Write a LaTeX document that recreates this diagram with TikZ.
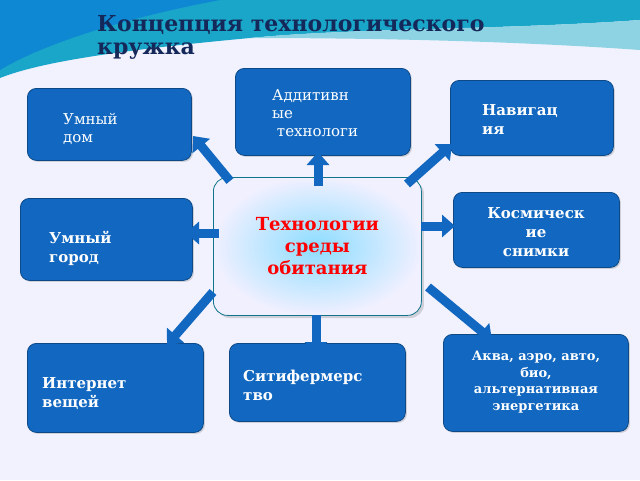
\documentclass[tikz,border=0pt]{standalone}
\usepackage{fontspec}
\setmainfont{DejaVu Serif}
\usetikzlibrary{arrows.meta,shadows}
\definecolor{boxblue}{HTML}{1268C0}
\definecolor{navy}{HTML}{14285A}
\definecolor{teal1}{HTML}{1AA6C8}
\tikzset{
  bx/.style={draw=boxblue!70!black,line width=0.8pt,fill=boxblue,rounded corners=9pt,anchor=north west,inner sep=0pt,drop shadow={opacity=0.3,shadow xshift=1.5pt,shadow yshift=-1.5pt}},
  tx/.style={text=white,font=\fontsize{15}{18}\selectfont,align=left,anchor=north west,inner sep=0pt},
  txb/.style={tx,font=\bfseries\fontsize{15}{19}\selectfont},
  fat/.style={line width=9pt,-{Triangle[width=22pt,length=13pt]},color=boxblue},
}
\begin{document}
\begin{tikzpicture}[x=1pt,y=-1pt]
\useasboundingbox (0,0) rectangle (640,480);
\fill[white!95!blue] (0,0) rectangle (640,480);
% top swoosh
\fill[teal1] (0,0) -- (640,0) -- (640,20) .. controls (500,30) and (350,28) .. (250,38) .. controls (120,50) and (40,62) .. (0,78) -- cycle;
\fill[teal1!50!white] (640,20) .. controls (500,30) and (350,28) .. (250,38) .. controls (350,38) and (500,40) .. (640,50) -- cycle;
\fill[cyan!70!blue] (0,0) -- (220,0) .. controls (140,15) and (50,40) .. (0,70) -- cycle;
\node[anchor=north west,text=navy,font=\bfseries\fontsize{22}{23}\selectfont,align=left,inner sep=0pt] (title) at (97,15) {Концепция технологического\\кружка};
% center
\node[draw=teal1!70!black,line width=0.8pt,rounded corners=14pt,inner color=blue!30!cyan!45,outer color=blue!6!white,minimum width=208pt,minimum height=138pt,anchor=north west,drop shadow={opacity=0.3}] (c) at (213,177) {};
\node[text=red,font=\bfseries\fontsize{18}{22}\selectfont,align=center] (ct) at (c.center) {Технологии\\среды\\обитания};
% boxes
\node[bx,minimum width=164pt,minimum height=72pt] (dom) at (27,88) {};
\node[tx] (domt) at (63,113) {Умный\\дом};
\node[bx,minimum width=175pt,minimum height=87pt] (add) at (235,68) {};
\node[tx] (addt) at (272,89) {Аддитивн\\ые\\\ технологи};
\node[bx,minimum width=163pt,minimum height=75pt] (nav) at (450,80) {};
\node[txb] (navt) at (482,104) {Навигац\\ия};
\node[bx,minimum width=172pt,minimum height=82pt] (gor) at (20,198) {};
\node[txb] (gort) at (49,231) {Умный\\город};
\node[bx,minimum width=166pt,minimum height=75pt] (kos) at (453,192) {};
\node[txb,anchor=north,align=center] (kost) at (536,207) {Космическ\\ие\\снимки};
\node[bx,minimum width=176pt,minimum height=89pt] (int) at (27,343) {};
\node[txb] (intt) at (42,377) {Интернет\\вещей};
\node[bx,minimum width=176pt,minimum height=78pt] (sit) at (229,343) {};
\node[txb] (sitt) at (243,370) {Ситифермерс\\тво};
\node[bx,minimum width=185pt,minimum height=97pt] (akv) at (443,334) {};
\node[txb,anchor=north,align=center,font=\bfseries\fontsize{13}{16.5}\selectfont] (akvt) at (536,351) {Аква, аэро, авто,\\био,\\альтернативная\\энергетика};
% arrows
\coordinate (a1) at (230,181); \coordinate (b1) at (193,136);
\coordinate (a2) at (318,186); \coordinate (b2) at (318,152);
\coordinate (a3) at (407,184); \coordinate (b3) at (452,144);
\coordinate (a4) at (219,233); \coordinate (b4) at (186,233);
\coordinate (a5) at (421,226); \coordinate (b5) at (455,226);
\coordinate (a6) at (213,292); \coordinate (b6) at (167,345);
\coordinate (a7) at (316,315); \coordinate (b7) at (316,355);
\coordinate (a8) at (428,287); \coordinate (b8) at (492,340);
\foreach \i in {1,...,8} {\draw[fat] (a\i) -- (b\i);}
\end{tikzpicture}
\end{document}
